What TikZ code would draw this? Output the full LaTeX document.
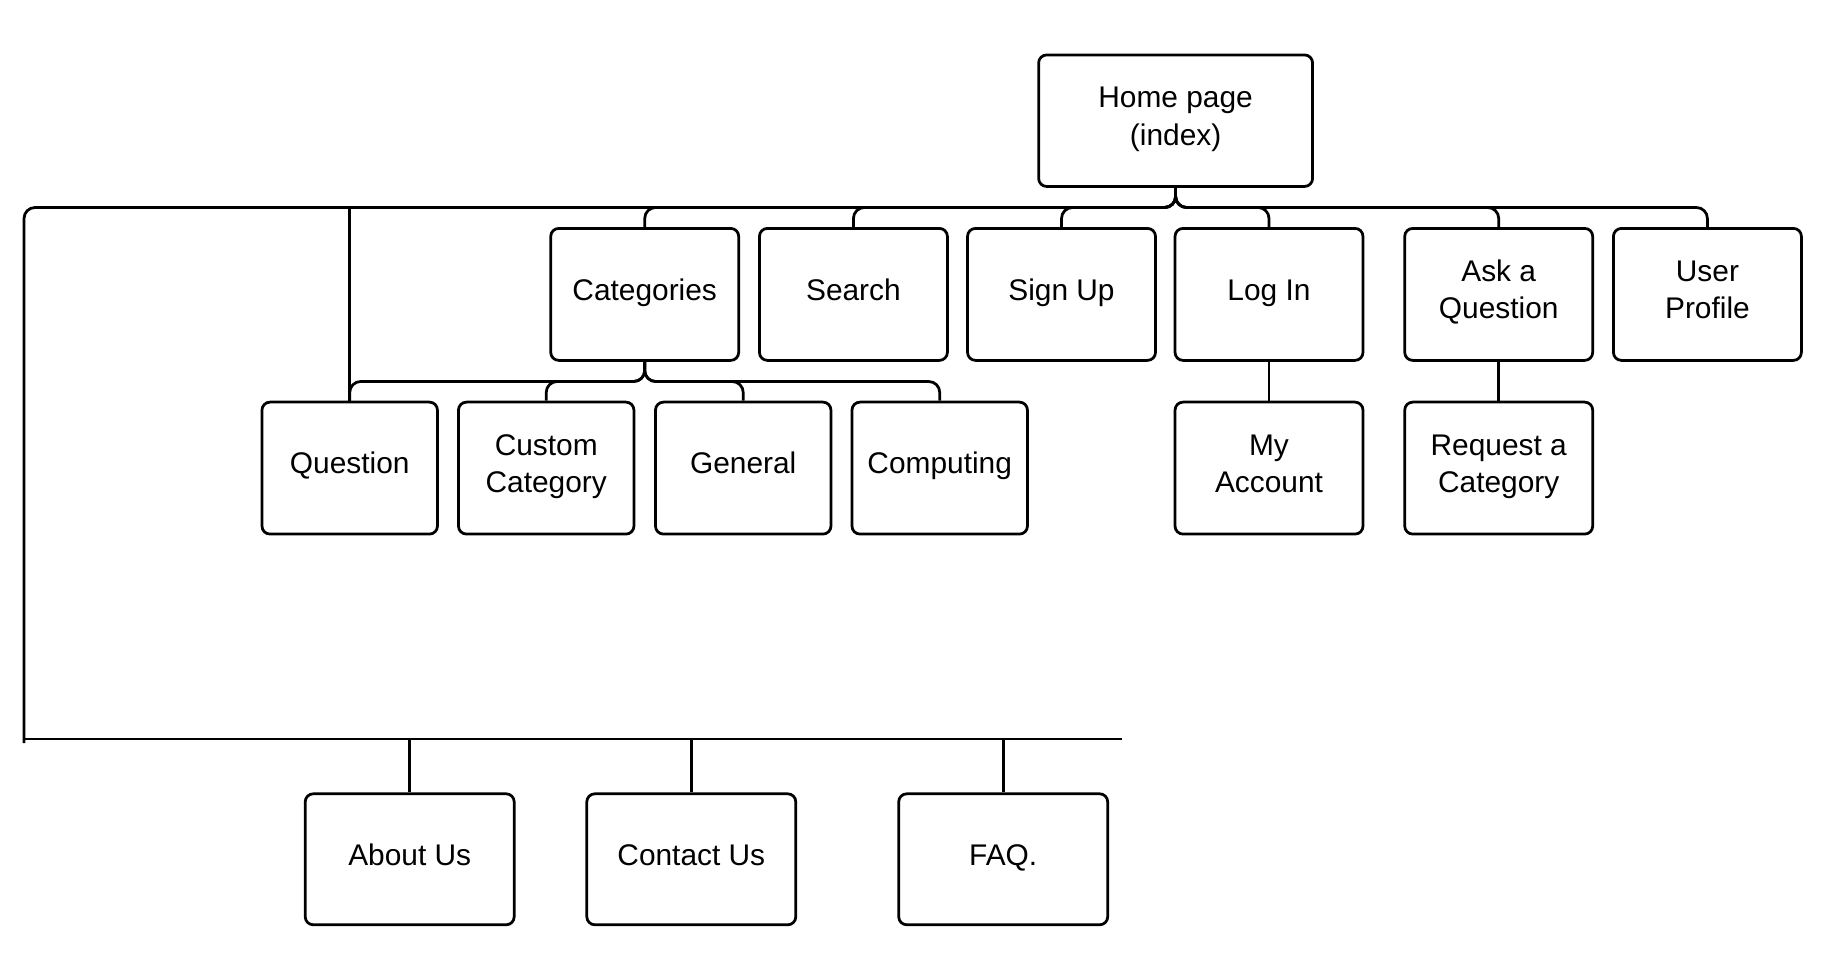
\documentclass[tikz,border=0pt]{standalone}
\usepackage{fontspec}
\setmainfont{Liberation Sans}
% invisible strut giving every text line the same height and depth
\newcommand\lstrut{\rule[-6pt]{0pt}{18.5pt}}
\begin{document}
\begin{tikzpicture}[x=0.02cm,y=-0.02cm,
  box/.style={draw, line width=0.055cm, rounded corners=0.16cm, align=center,
    font=\fontsize{17}{21.2}\selectfont, inner sep=0pt},
  toprow/.style={box, minimum width=3.76cm, minimum height=2.64cm},
  subrow/.style={box, minimum width=3.51cm, minimum height=2.64cm},
  footrow/.style={box, minimum width=4.18cm, minimum height=2.62cm},
  link/.style={line width=0.055cm, rounded corners=0.22cm},
  plain/.style={line width=0.055cm}]
\useasboundingbox (0,0) rectangle (1828,976);

% bus levels
\coordinate (bus)  at (0,207.5);
\coordinate (bus2) at (0,381.5);
\coordinate (tl)   at (24,207.5);
\coordinate (bl)   at (24,743);
\coordinate (bbL)  at (24,739);
\coordinate (bbR)  at (1121.5,739);

% root
\node[box, minimum width=5.48cm, minimum height=2.63cm] (home) at (1175.6,120.7) {Home page\lstrut\\(index)\lstrut};

% first level
\node[toprow] (cat)    at (644.7,294.4)  {Categories\lstrut};
\node[toprow] (search) at (853.4,294.4)  {Search\lstrut};
\node[toprow] (signup) at (1061.5,294.4) {Sign Up\lstrut};
\node[toprow] (login)  at (1269,294.4)   {Log In\lstrut};
\node[toprow] (ask)    at (1498.7,294.4) {Ask a\lstrut\\Question\lstrut};
\node[toprow] (user)   at (1707.4,294.4) {User\lstrut\\Profile\lstrut};

% second level
\node[subrow] (question)  at (349.7,468.1) {Question\lstrut};
\node[subrow] (custom)    at (546.2,468.1) {Custom\lstrut\\Category\lstrut};
\node[subrow] (general)   at (743.2,468.1) {General\lstrut};
\node[subrow] (computing) at (939.7,468.1) {Computing\lstrut};
\node[toprow] (account)   at (1269,468.1)   {My\lstrut\\Account\lstrut};
\node[toprow] (request)   at (1498.7,468.1) {Request a\lstrut\\Category\lstrut};

% footer pages
\node[footrow] (about)   at (409.7,859.3)  {About Us\lstrut};
\node[footrow] (contact) at (691.3,859.3)  {Contact Us\lstrut};
\node[footrow] (faq)     at (1003.2,859.3) {FAQ.\lstrut};

% home to first level
\foreach \n in {cat,search,signup,login,ask,user}
  \draw[link] (home.south) -- (home.south |- bus) -| (\n.north);

% home to the footer loop
\draw[link] (home.south) -- (home.south |- bus) -- (tl) -- (bl);
\draw[plain] (bbL) -- (bbR);
\foreach \n in {about,contact,faq}
  \draw[plain] (\n.north) -- (\n.north |- bbL);

% home straight down to the question page
\draw[plain] (question.north) -- (question.north |- bus);

% categories to its children
\foreach \n in {question,custom,general,computing}
  \draw[link] (cat.south) -- (cat.south |- bus2) -| (\n.north);

% single children
\draw[plain] (login.south) -- (account.north);
\draw[plain] (ask.south) -- (request.north);
\end{tikzpicture}
\end{document}
